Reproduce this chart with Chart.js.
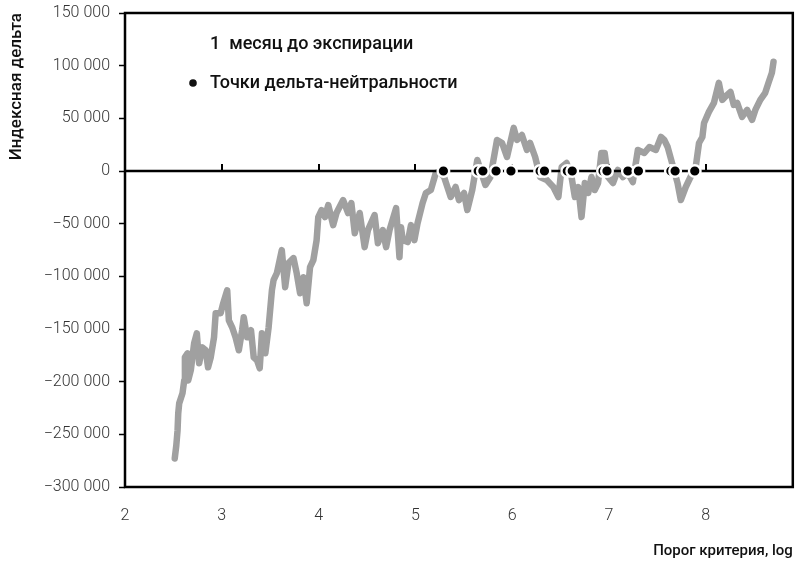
<!DOCTYPE html>
<html lang="ru">
<head>
<meta charset="utf-8">
<title>Индексная дельта</title>
<script src="https://cdn.jsdelivr.net/npm/chart.js@4.4.1/dist/chart.umd.min.js"></script>
<style>
  html, body { margin: 0; padding: 0; background: #fff; }
  #wrap { width: 801px; height: 562px; }
</style>
</head>
<body>
<div id="wrap"><canvas id="deltaChart" width="801" height="562"></canvas></div>
<script>
// Threshold (log) and index delta for 1 month to expiry
const thresholds = [
  2.514, 2.530, 2.543, 2.550, 2.560, 2.594, 2.612, 2.619, 2.646, 2.653,
  2.680, 2.714, 2.742, 2.766, 2.799, 2.834, 2.858, 2.886, 2.920, 2.937,
  2.988, 3.015, 3.056, 3.073, 3.107, 3.142, 3.176, 3.210, 3.227, 3.261,
  3.302, 3.330, 3.364, 3.392, 3.415, 3.450, 3.484, 3.518, 3.535, 3.569,
  3.620, 3.655, 3.689, 3.741, 3.774, 3.809, 3.843, 3.877, 3.912, 3.946,
  3.980, 3.997, 4.031, 4.066, 4.100, 4.151, 4.185, 4.254, 4.305, 4.339,
  4.374, 4.425, 4.476, 4.510, 4.579, 4.613, 4.664, 4.698, 4.733, 4.801,
  4.836, 4.852, 4.869, 4.921, 4.955, 4.990, 5.023, 5.075, 5.109, 5.160,
  5.211, 5.246, 5.297, 5.365, 5.416, 5.451, 5.503, 5.537, 5.588, 5.640,
  5.673, 5.724, 5.776, 5.844, 5.896, 5.947, 6.016, 6.050, 6.101, 6.153,
  6.186, 6.238, 6.289, 6.358, 6.426, 6.478, 6.512, 6.563, 6.614, 6.648,
  6.683, 6.717, 6.751, 6.786, 6.820, 6.853, 6.888, 6.922, 6.956, 6.991,
  7.042, 7.093, 7.145, 7.196, 7.247, 7.299, 7.366, 7.418, 7.486, 7.538,
  7.572, 7.607, 7.658, 7.709, 7.743, 7.794, 7.863, 7.897, 7.931, 7.966,
  7.983, 8.033, 8.085, 8.136, 8.171, 8.222, 8.256, 8.290, 8.325, 8.376,
  8.428, 8.479, 8.513, 8.564, 8.615, 8.649, 8.684, 8.701
];
const deltas = [
  -272900, -260600, -246300, -230100, -220600, -211100, -198800, -176900, -173100, -198800,
  -189200, -163600, -154100, -182600, -167400, -170200, -186400, -176900, -157900, -135000,
  -135000, -125500, -113200, -141700, -148400, -157900, -170200, -151200, -138800, -157900,
  -151200, -176900, -179700, -187300, -154100, -173100, -148400, -113200, -103700, -97000,
  -75100, -110300, -87500, -82700, -97000, -116000, -100800, -125500, -91300, -84600,
  -65600, -43700, -37100, -43700, -32300, -51400, -39900, -27600, -39900, -30400,
  -59000, -39900, -72300, -56100, -41800, -68500, -56100, -72300, -56100, -35200,
  -81800, -53300, -65600, -67500, -51400, -65600, -49500, -30400, -20900, -18100,
  -1900, -1000, -5700, -24700, -15200, -27600, -20900, -37100, -18100, 10500,
  1000, -13300, -5700, 29500, 26600, 13300, 40900, 29500, 34200, 20000,
  26600, 13300, -5700, -8600, -15200, -24700, 3800, 7600, -5700, -24700,
  -15200, -43700, -11400, -20900, -5700, -18100, -11400, 17100, 17100, -5700,
  -11400, 1000, -5700, -1900, -10500, 20000, 17100, 22800, 20000, 32300,
  29500, 22800, 5700, -11400, -27600, -15200, -1900, 3800, 26600, 32300,
  45600, 56100, 64700, 83700, 67500, 72300, 75100, 62800, 64700, 51400,
  58000, 48500, 58000, 67500, 74200, 83700, 93200, 103700
];
// Delta-neutral thresholds (delta = 0)
const neutralPoints = [
  5.290, 5.649, 5.698, 5.834, 5.988, 6.289, 6.334, 6.570,
  6.621, 6.939, 6.980, 7.196, 7.305, 7.640, 7.684, 7.887
];

const seriesLabel = '1  месяц до экспирации';
const pointsLabel = 'Точки дельта-нейтральности';
const xTitle = 'Порог критерия, log';
const yTitle = 'Индексная дельта';

const FONT = 'Roboto';

function fmtThousands(v) {
  const s = Math.abs(v).toString().replace(/\B(?=(\d{3})+(?!\d))/g, ' ');
  return (v < 0 ? '\u2212' : '') + s;
}

// zero line with its ticks, plot frame and the in-plot legend
const decorations = {
  id: 'decorations',
  beforeDatasetDraw(chart, args) {
    if (args.index !== 0) return;
    const { ctx, chartArea: ca, scales: { x, y } } = chart;
    const y0 = Math.round(y.getPixelForValue(0));
    ctx.save();
    ctx.strokeStyle = '#000';
    ctx.lineWidth = 2.5;
    ctx.beginPath();
    ctx.moveTo(ca.left, y0);
    ctx.lineTo(ca.right, y0);
    ctx.stroke();
    ctx.lineWidth = 2;
    ctx.beginPath();
    x.ticks.forEach(t => {
      if (t.value <= x.min) return;
      const px = Math.round(x.getPixelForValue(t.value));
      ctx.moveTo(px, y0);
      ctx.lineTo(px, y0 - 7);
    });
    ctx.stroke();
    ctx.restore();
  },
  afterDatasetsDraw(chart) {
    const { ctx, chartArea: ca } = chart;
    ctx.save();
    ctx.strokeStyle = '#000';
    ctx.lineWidth = 2.5;
    ctx.strokeRect(ca.left, ca.top, ca.right - ca.left, ca.bottom - ca.top);
    ctx.restore();
  },
  afterDraw(chart) {
    const { ctx, chartArea: ca } = chart;
    ctx.save();
    ctx.font = '500 18px ' + FONT;
    ctx.fillStyle = '#111';
    ctx.textBaseline = 'middle';
    ctx.textAlign = 'left';
    ctx.fillText(seriesLabel, ca.left + 85, ca.top + 31);
    ctx.beginPath();
    ctx.arc(ca.left + 68, ca.top + 70, 3.8, 0, Math.PI * 2);
    ctx.fill();
    ctx.fillText(pointsLabel, ca.left + 85, ca.top + 70);
    ctx.restore();
  }
};

new Chart(document.getElementById('deltaChart'), {
  type: 'line',
  data: {
    datasets: [
      {
        label: pointsLabel,
        data: neutralPoints.map(v => ({ x: v, y: 0 })),
        showLine: false,
        pointRadius: 5.8,
        pointBackgroundColor: '#000',
        pointBorderColor: '#fff',
        pointBorderWidth: 2.4
      },
      {
        label: seriesLabel,
        data: thresholds.map((v, i) => ({ x: v, y: deltas[i] })),
        borderColor: '#a0a0a0',
        borderWidth: 6.5,
        borderJoinStyle: 'round',
        borderCapStyle: 'round',
        pointRadius: 0,
        tension: 0
      }
    ]
  },
  options: {
    responsive: false,
    animation: false,
    layout: { padding: { top: 13, right: 3, left: 0, bottom: 0 } },
    plugins: {
      legend: { display: false },
      tooltip: { enabled: false }
    },
    scales: {
      x: {
        type: 'linear',
        min: 2,
        max: 8.9,
        afterFit: scale => { scale.height = 75; },
        ticks: {
          stepSize: 1,
          includeBounds: false,
          padding: 19,
          color: '#333',
          font: { family: FONT, size: 16, weight: '300' }
        },
        grid: { display: false, drawTicks: false },
        border: { display: false },
        title: {
          display: true,
          text: xTitle,
          align: 'end',
          color: '#111',
          padding: { top: 0, bottom: 2 },
          font: { family: FONT, size: 15, weight: '500' }
        }
      },
      y: {
        min: -300000,
        max: 150000,
        afterFit: scale => {
          scale.width = 125;
          // top label may overhang the frame
          scale.paddingTop = 0;
          scale.paddingBottom = 0;
        },
        ticks: {
          stepSize: 50000,
          padding: 9,
          color: '#333',
          font: { family: FONT, size: 16, weight: '300' },
          callback: v => fmtThousands(v)
        },
        grid: {
          drawOnChartArea: false,
          drawTicks: true,
          tickLength: 6,
          tickColor: '#000',
          tickWidth: 1.5
        },
        border: { display: false },
        title: {
          display: true,
          text: yTitle,
          align: 'end',
          color: '#111',
          padding: { top: 7, bottom: 0 },
          font: { family: FONT, size: 17, weight: '500' }
        }
      }
    }
  },
  plugins: [decorations]
});
</script>
</body>
</html>
